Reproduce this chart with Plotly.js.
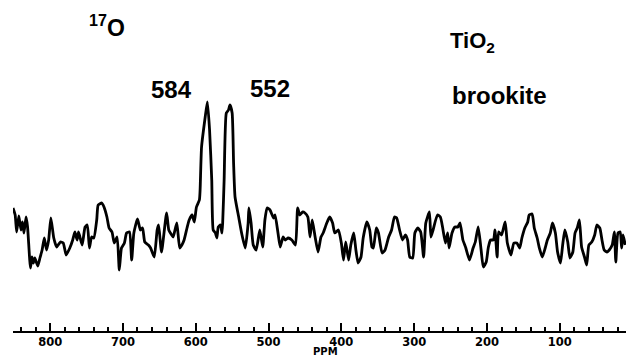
<!DOCTYPE html>
<html>
<head>
<meta charset="utf-8">
<script src="https://cdn.plot.ly/plotly-3.0.1.min.js"></script>
<style>html,body{margin:0;padding:0;background:#fff;}#chart{width:626px;height:356px;}</style>
</head>
<body>
<div id="chart"></div>
<script>
// Chemical shift (ppm) and relative intensity (arbitrary units)
var ppm = [
 851,848,846,843,840,838,836,833,831,827,
 825,823,821,817,814,811,808,805,802,799,
 795,791,786,782,778,773,769,766,763,761,
 756,752,749,746,743,740,736,734,729,726,
 722,719,715,712,708,705,702,698,695,691,
 688,685,680,676,673,670,665,662,657,653,
 651,647,640,637,633,631,626,622,619,616,
 612,609,605,602,599,595,594,592,587,584,
 581,578,576,573,571,569,566,564,563,561,
 558,555,553,550,548,546,541,537,532,528,
 527,524,521,517,512,508,505,502,498,493,
 491,487,484,480,477,473,468,463,460,457,
 453,450,446,443,440,436,432,428,425,420,
 416,412,409,404,400,397,394,390,387,383,
 380,377,373,370,365,361,358,356,352,349,
 344,340,335,331,327,324,320,316,312,309,
 306,302,299,295,291,287,284,279,277,274,
 268,264,261,257,254,252,248,244,240,237,
 233,229,224,219,216,212,208,205,201,198,
 195,191,189,186,184,180,175,172,167,163,
 159,155,152,148,144,142,138,135,131,128,
 124,120,117,113,110,106,103,99,96,93,
 89,86,82,79,76,73,70,66,63,60,
 56,52,49,45,42,39,35,32,28,25,
 23,20,17,15,13,10
];
var intensity = [
 62,55,38,54,40,48,37,53,43,2,
 13,7,12,4,12,20,32,20,30,52,
 32,23,28,27,15,22,30,38,30,38,
 25,43,45,22,33,32,50,65,67,63,
 53,42,38,27,33,0,22,27,37,38,
 10,37,51,40,42,28,25,22,13,40,
 45,18,57,40,35,33,47,22,25,30,
 42,50,55,48,63,70,80,123,153,168,
 140,90,40,37,32,43,45,37,47,90,
 157,160,165,157,107,73,53,37,22,47,
 62,47,25,20,40,23,50,62,60,52,
 55,37,23,33,30,32,30,25,62,55,
 58,57,53,33,50,33,18,33,37,47,
 53,47,37,40,27,10,28,10,25,37,
 20,7,13,32,48,40,23,22,42,37,
 17,20,33,40,53,52,40,30,35,30,
 13,12,37,42,38,13,47,58,33,40,
 55,53,43,27,37,22,37,43,43,47,
 30,22,10,22,28,43,20,3,8,23,
 30,30,40,13,38,35,48,27,15,27,
 27,22,32,42,48,55,56,42,32,22,
 13,22,30,37,47,37,18,7,25,40,
 28,12,18,37,42,50,23,13,5,25,
 28,35,45,42,30,20,18,20,25,38,
 8,37,38,22,35,25
];
var peakLabels = ['584', '552'];
var sampleName = 'TiO<sub>2</sub>';
var phaseName = 'brookite';
var nucleus = '<sup>17</sup>O';
var axisTitle = 'PPM';

var boldFont = {family: 'Liberation Sans, Arial, sans-serif', color: '#000', weight: 'bold'};
function f(size) { return Object.assign({}, boldFont, {size: size}); }

var trace = {
  x: ppm, y: intensity, type: 'scatter', mode: 'lines',
  line: {color: '#000', width: 2.8, shape: 'spline', smoothing: 0.5},
  hoverinfo: 'skip'
};

var layout = {
  width: 626, height: 356,
  margin: {l: 13, r: 0, t: 0, b: 25, pad: 0},
  paper_bgcolor: '#fff', plot_bgcolor: '#fff',
  showlegend: false,
  xaxis: {
    range: [851, 9], autorange: false, automargin: false,
    showgrid: false, zeroline: false,
    showline: true, linecolor: '#000', linewidth: 2,
    ticks: 'inside', ticklen: 8, tickwidth: 2, tickcolor: '#000',
    tick0: 0, dtick: 100, ticklabelstandoff: -1,
    tickfont: {family: 'DejaVu Sans, sans-serif', size: 11.5, color: '#000', weight: 'bold'},
    minor: {tick0: 0, dtick: 20, ticks: 'inside', ticklen: 4, tickwidth: 2, tickcolor: '#000', showgrid: false}
  },
  yaxis: {range: [-61, 270], autorange: false, visible: false, showgrid: false, zeroline: false},
  annotations: [
    {xref: 'paper', yref: 'paper', x: 0.120, y: 0.922, xanchor: 'left', yanchor: 'middle', text: nucleus, showarrow: false, font: f(23)},
    {xref: 'paper', yref: 'paper', x: 0.258, y: 0.731, xanchor: 'center', yanchor: 'middle', text: peakLabels[0], showarrow: false, font: f(24)},
    {xref: 'paper', yref: 'paper', x: 0.419, y: 0.734, xanchor: 'center', yanchor: 'middle', text: peakLabels[1], showarrow: false, font: f(24)},
    {xref: 'paper', yref: 'paper', x: 0.710, y: 0.872, xanchor: 'left', yanchor: 'middle', text: sampleName, showarrow: false, font: f(22)},
    {xref: 'paper', yref: 'paper', x: 0.794, y: 0.710, xanchor: 'center', yanchor: 'middle', text: phaseName, showarrow: false, font: f(24)},
    {xref: 'paper', yref: 'paper', x: 0.509, y: -0.061, xanchor: 'center', yanchor: 'middle', text: axisTitle, showarrow: false,
     font: {family: 'DejaVu Sans, sans-serif', size: 10, color: '#000', weight: 'bold'}}
  ]
};

Plotly.newPlot('chart', [trace], layout, {displayModeBar: false, staticPlot: true});
</script>
</body>
</html>
